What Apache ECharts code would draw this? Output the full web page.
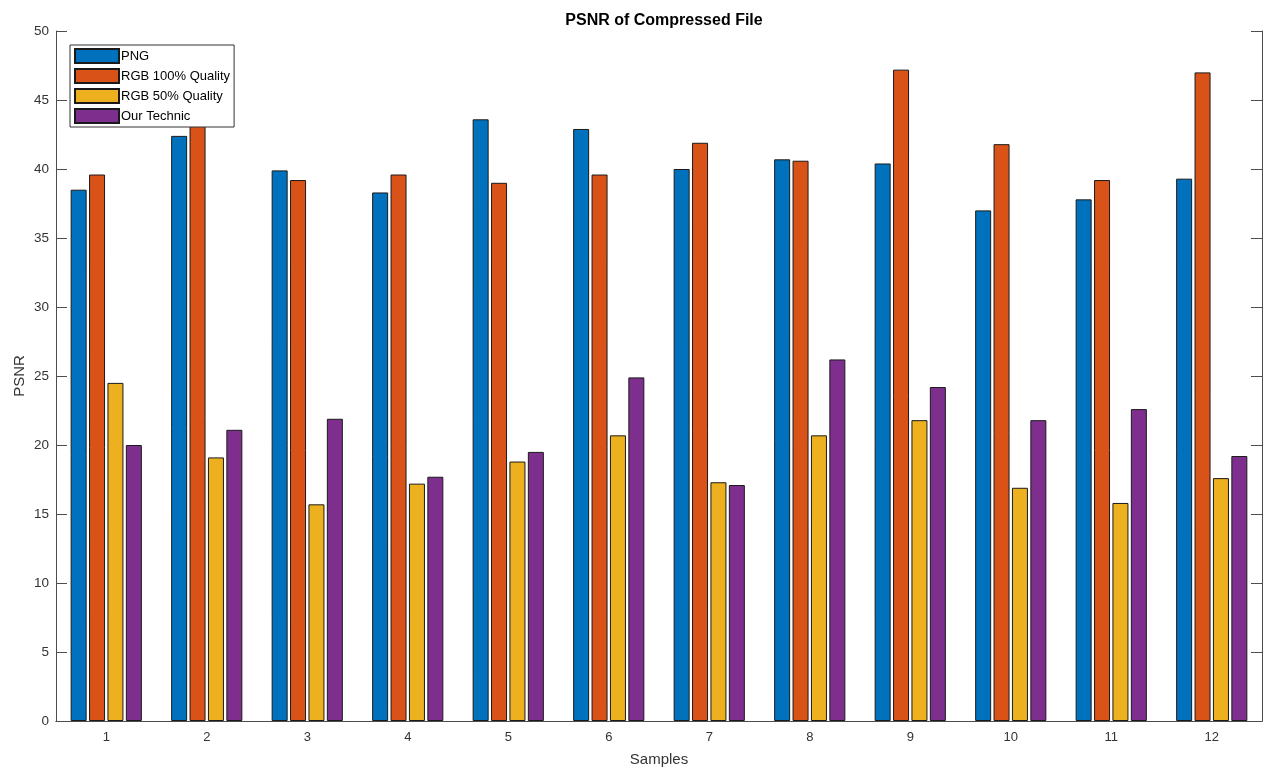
<!DOCTYPE html>
<html>
<head>
<meta charset="utf-8">
<script src="https://cdn.jsdelivr.net/npm/echarts@6/dist/echarts.min.js"></script>
<style>
html,body{margin:0;padding:0;background:#fff;}
#chart{width:1266px;height:769px;}
</style>
</head>
<body>
<div id="chart"></div>
<script>
var categories = ['1','2','3','4','5','6','7','8','9','10','11','12'];
var seriesNames = ['PNG','RGB 100% Quality','RGB 50% Quality','Our Technic'];
var pngValues    = [38.5, 42.4, 39.9, 38.3, 43.6, 42.9, 40.0, 40.7, 40.4, 37.0, 37.8, 39.3];
var rgb100Values = [39.6, 44.0, 39.2, 39.6, 39.0, 39.6, 41.9, 40.6, 47.2, 41.8, 39.2, 47.0];
var rgb50Values  = [24.5, 19.1, 15.7, 17.2, 18.8, 20.7, 17.3, 20.7, 21.8, 16.9, 15.8, 17.6];
var ourValues    = [20.0, 21.1, 21.9, 17.7, 19.5, 24.9, 17.1, 26.2, 24.2, 21.8, 22.6, 19.2];
var yTicks = {min: 0, max: 50, interval: 5};

var colors = ['#0072BD','#D95319','#EDB120','#7E2F8E'];
var allValues = [pngValues, rgb100Values, rgb50Values, ourValues];
var axisCol = '#4d4d4d';
var font = 'Liberation Sans, Arial, Helvetica, sans-serif';

var series = seriesNames.map(function(n, i){
  return {
    name: n, type: 'bar', data: allValues[i],
    barWidth: 16, barGap: '15%',
    itemStyle: {color: colors[i], borderColor: '#1a1a1a', borderWidth: 1},
    emphasis: {disabled: true}
  };
});

var chart = echarts.init(document.getElementById('chart'), null, {renderer: 'canvas'});
chart.setOption({
  animation: false,
  backgroundColor: '#fff',
  textStyle: {fontFamily: font},
  title: {
    text: 'PSNR of Compressed File', left: 659, top: 8, textAlign: 'center',
    textStyle: {fontSize: 16, fontWeight: 'bold', color: '#000', fontFamily: font}
  },
  legend: {
    orient: 'vertical', left: 70, top: 45, padding: [3, 4, 3, 4],
    itemWidth: 44, itemHeight: 14, itemGap: 4,
    borderColor: '#333', borderWidth: 1, backgroundColor: '#fff',
    icon: 'rect',
    textStyle: {fontSize: 13, color: '#000', fontFamily: font, padding: [0, 0, 0, -3]},
    data: seriesNames
  },
  grid: {left: 56, right: 4, top: 31, bottom: 48, containLabel: false, outerBoundsMode: 'none'},
  xAxis: [{
    type: 'category', data: categories, position: 'bottom', z: 5,
    name: 'Samples', nameLocation: 'middle', nameGap: 31, nameMoveOverlap: false,
    nameTextStyle: {fontSize: 15, color: '#333', fontFamily: font},
    axisLine: {lineStyle: {color: axisCol, width: 1}},
    axisTick: {inside: true, alignWithLabel: true, length: 11, lineStyle: {color: '#222', width: 1.5}},
    axisLabel: {fontSize: 13, color: '#333', margin: 10, fontFamily: font},
    splitLine: {show: false}
  }, {
    type: 'category', data: categories, position: 'top', z: 5,
    axisLine: {show: true, lineStyle: {color: axisCol, width: 1}},
    axisTick: {inside: true, alignWithLabel: true, length: 11, lineStyle: {color: axisCol}},
    axisLabel: {show: false},
    splitLine: {show: false}
  }],
  yAxis: [{
    type: 'value', min: yTicks.min, max: yTicks.max, interval: yTicks.interval, position: 'left', z: 5,
    name: 'PSNR', nameLocation: 'middle', nameGap: 29, nameRotate: 90, nameMoveOverlap: false,
    nameTextStyle: {fontSize: 15, color: '#333', fontFamily: font},
    axisLine: {show: true, lineStyle: {color: axisCol, width: 1}},
    axisTick: {show: true, inside: true, length: 11, lineStyle: {color: axisCol}},
    axisLabel: {fontSize: 13.5, color: '#333', margin: 7, fontFamily: font},
    splitLine: {show: false}
  }, {
    type: 'value', min: yTicks.min, max: yTicks.max, interval: yTicks.interval, position: 'right', z: 5,
    axisLine: {show: true, lineStyle: {color: axisCol, width: 1}},
    axisTick: {show: true, inside: true, length: 11, lineStyle: {color: axisCol}},
    axisLabel: {show: false},
    splitLine: {show: false}
  }],
  series: series
});
</script>
</body>
</html>
